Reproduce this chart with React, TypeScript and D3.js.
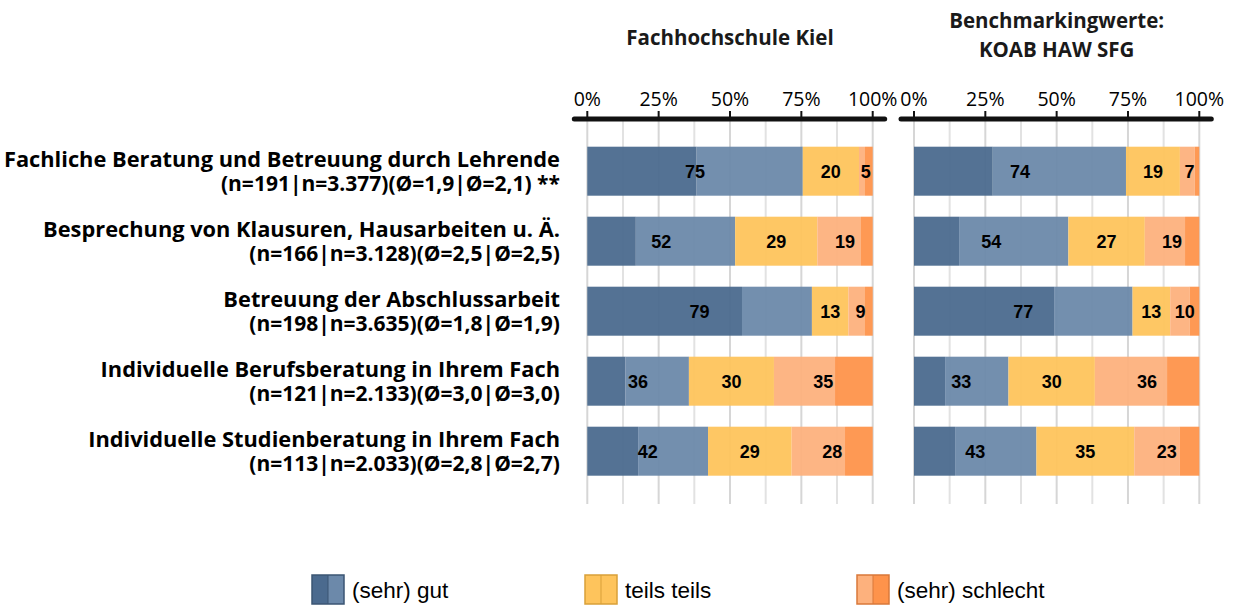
import * as d3 from "d3";

const categories = [
  "Fachliche Beratung und Betreuung durch Lehrende",
  "Besprechung von Klausuren, Hausarbeiten u. Ä.",
  "Betreuung der Abschlussarbeit",
  "Individuelle Berufsberatung in Ihrem Fach",
  "Individuelle Studienberatung in Ihrem Fach",
];
const categoryInfo = [
  "(n=191|n=3.377)(Ø=1,9|Ø=2,1) **",
  "(n=166|n=3.128)(Ø=2,5|Ø=2,5)",
  "(n=198|n=3.635)(Ø=1,8|Ø=1,9)",
  "(n=121|n=2.133)(Ø=3,0|Ø=3,0)",
  "(n=113|n=2.033)(Ø=2,8|Ø=2,7)",
];

// Fachhochschule Kiel (percent)
const kielSehrGut = [38.3, 17.0, 54.2, 13.4, 17.8];
const kielGut = [37.2, 34.8, 24.5, 22.2, 24.5];
const kielTeils = [19.7, 28.8, 12.8, 29.8, 29.3];
const kielSchlecht = [2.1, 15.3, 5.8, 21.4, 18.7];
const kielSehrSchlecht = [2.7, 4.1, 2.7, 13.2, 9.7];
const kielLabels = [
  [75, 20, 5],
  [52, 29, 19],
  [79, 13, 9],
  [36, 30, 35],
  [42, 29, 28],
];

// Benchmarkingwerte KOAB HAW SFG (percent)
const benchSehrGut = [27.6, 15.8, 49.1, 10.9, 14.4];
const benchGut = [46.7, 38.3, 27.5, 22.2, 28.5];
const benchTeils = [18.9, 26.8, 13.2, 30.3, 34.3];
const benchSchlecht = [5.2, 14.1, 6.8, 25.3, 16.0];
const benchSehrSchlecht = [1.6, 5.0, 3.4, 11.3, 6.8];
const benchLabels = [
  [74, 19, 7],
  [54, 27, 19],
  [77, 13, 10],
  [33, 30, 36],
  [43, 35, 23],
];

const ticks = [0, 25, 50, 75, 100];
const gridValues = [0, 12.5, 25, 37.5, 50, 62.5, 75, 87.5, 100];
const legendItems = ["(sehr) gut", "teils teils", "(sehr) schlecht"];

const colors = ["#4b6a8e", "#6c89aa", "#fec45c", "#fdb17d", "#fe934b"];

const W = 1243;
const H = 606;

const y = d3
  .scaleBand<string>()
  .domain(categories)
  .range([136.2, 486.2])
  .paddingInner(0.3)
  .paddingOuter(0.15);

const labelFont = "'Open Sans', Lato, sans-serif";
const numFont = "'Liberation Sans', Arial, sans-serif";

const Panel = ({
  x0,
  x1,
  series,
  labels,
  title,
}: {
  x0: number;
  x1: number;
  series: number[][];
  labels: number[][];
  title: string[];
}) => {
  const x = d3.scaleLinear().domain([0, 100]).range([x0, x1]);
  const axisY = 119;
  const cx = (x0 + x1) / 2;
  return (
    <g>
      <text
        x={cx}
        y={title.length === 1 ? 45 : 28}
        textAnchor="middle"
        fontFamily={labelFont}
        fontWeight="bold"
        fontSize={20.5}
        fill="#1a1a1a"
      >
        {title.map((t, i) => (
          <tspan key={t} x={cx} dy={i === 0 ? 0 : 28.5}>
            {t}
          </tspan>
        ))}
      </text>
      {gridValues.map((g) => (
        <line
          key={g}
          x1={x(g)}
          x2={x(g)}
          y1={axisY}
          y2={504}
          stroke={g % 25 === 0 ? "#d6d6d6" : "#e2e2e2"}
          strokeWidth={2}
        />
      ))}
      {categories.map((c, i) => {
        const vals = series.map((s) => s[i]);
        const cum = d3.cumsum(vals);
        const starts = vals.map((_, k) => (k === 0 ? 0 : cum[k - 1]));
        const groups = [
          [0, cum[1]],
          [cum[1], cum[2]],
          [cum[2], cum[4]],
        ];
        const yb = y(c)!;
        return (
          <g key={c}>
            {vals.map((v, k) => (
              <rect
                key={k}
                x={x(starts[k])}
                y={yb}
                width={x(starts[k] + v) - x(starts[k])}
                height={y.bandwidth()}
                fill={colors[k]}
                fillOpacity={0.95}
              />
            ))}
            {groups.map(([a, b], k) => (
              <text
                key={k}
                x={x((a + b) / 2)}
                y={yb + y.bandwidth() / 2 + 6.5}
                textAnchor="middle"
                fontFamily={numFont}
                fontWeight="bold"
                fontSize={18}
                fill="#000"
              >
                {labels[i][k]}
              </text>
            ))}
          </g>
        );
      })}
      <line
        x1={x0 - 13}
        x2={x1 + 12}
        y1={axisY}
        y2={axisY}
        stroke="#111"
        strokeWidth={5}
        strokeLinecap="round"
      />
      {ticks.map((t) => (
        <g key={t}>
          <line
            x1={x(t)}
            x2={x(t)}
            y1={axisY - 8}
            y2={axisY}
            stroke="#111"
            strokeWidth={2}
          />
          <text
            x={x(t)}
            y={106}
            textAnchor="middle"
            fontFamily={labelFont}
            fontSize={19.5}
            fill="#000"
          >
            {t}%
          </text>
        </g>
      ))}
    </g>
  );
};

export default function App() {
  const kielSeries = [kielSehrGut, kielGut, kielTeils, kielSchlecht, kielSehrSchlecht];
  const benchSeries = [benchSehrGut, benchGut, benchTeils, benchSchlecht, benchSehrSchlecht];
  const legendX = [312, 585, 857];
  const legendColors = [
    [colors[0], colors[1]],
    [colors[2], colors[2]],
    [colors[3], colors[4]],
  ];
  const legendStroke = ["#3b5573", "#d9a038", "#d9783a"];
  return (
    <svg
      width={W}
      height={H}
      style={{ position: "absolute", left: 0, top: 0, display: "block" }}
    >
      <rect width={W} height={H} fill="#fff" />
      {categories.map((c, i) => {
        const cy = y(c)! + y.bandwidth() / 2;
        return (
          <text
            key={c}
            x={560}
            y={cy - 4.5}
            textAnchor="end"
            fontFamily={labelFont}
            fontWeight="bold"
            fill="#000"
          >
            <tspan x={560} fontSize={21.8}>
              {c}
            </tspan>
            <tspan x={560} dy={24} fontSize={21}>
              {categoryInfo[i]}
            </tspan>
          </text>
        );
      })}
      <Panel
        x0={587.3}
        x1={872.7}
        series={kielSeries}
        labels={kielLabels}
        title={["Fachhochschule Kiel"]}
      />
      <Panel
        x0={914}
        x1={1199.3}
        series={benchSeries}
        labels={benchLabels}
        title={["Benchmarkingwerte:", "KOAB HAW SFG"]}
      />
      {legendItems.map((l, i) => (
        <g key={l} transform={`translate(${legendX[i]},575)`}>
          <rect x={0} y={0} width={16} height={29} fill={legendColors[i][0]} />
          <rect x={16} y={0} width={16} height={29} fill={legendColors[i][1]} />
          <line x1={16} x2={16} y1={0} y2={29} stroke={legendStroke[i]} strokeWidth={1} />
          <rect
            x={0}
            y={0}
            width={32}
            height={29}
            fill="none"
            stroke={legendStroke[i]}
            strokeWidth={1.5}
          />
          <text
            x={40}
            y={23}
            fontFamily={numFont}
            fontSize={22.5}
            fill="#000"
          >
            {l}
          </text>
        </g>
      ))}
    </svg>
  );
}
